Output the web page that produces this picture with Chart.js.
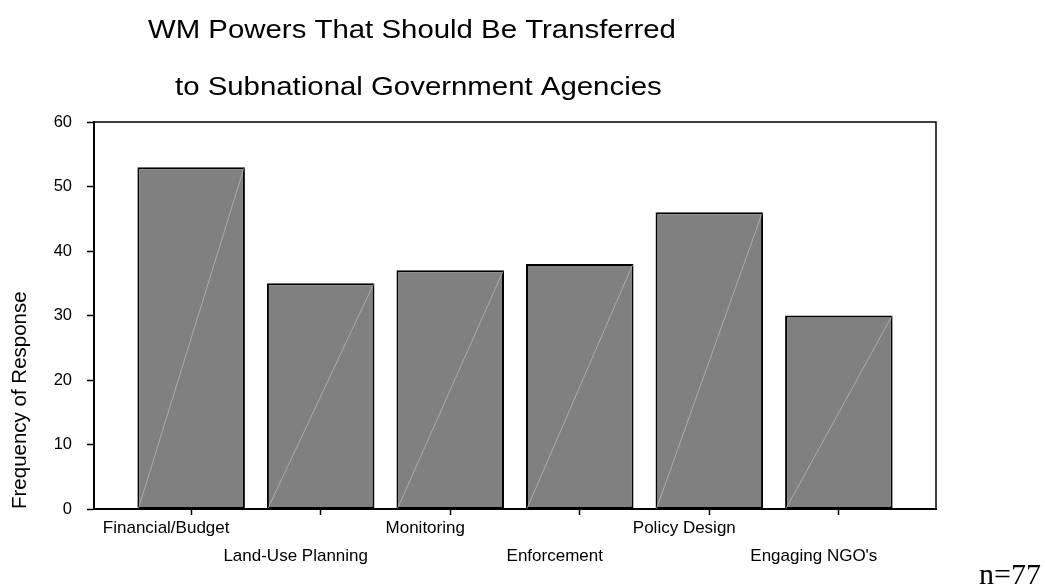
<!DOCTYPE html>
<html>
<head>
<meta charset="utf-8">
<title>WM Powers</title>
<script src="https://cdn.jsdelivr.net/npm/chart.js@4"></script>
<style>
  html, body { margin: 0; padding: 0; background: #fff; overflow: hidden; }
  canvas { display: block; }
</style>
</head>
<body>
<canvas id="powersChart" width="1045" height="587"></canvas>
<script>
var categories = ["Financial/Budget", "Land-Use Planning", "Monitoring", "Enforcement", "Policy Design", "Engaging NGO's"];
var responses = [53, 35, 37, 38, 46, 30];
var yTicks = [0, 10, 20, 30, 40, 50, 60];
var titleLines = ["WM Powers That Should Be Transferred", "to Subnational Government Agencies"];
var sampleNote = "n=77";

var sans = "'Liberation Sans', Arial, sans-serif";

// title lines (slightly widened face) and the n= note
var textPlugin = {
    id: 'textPlugin',
    afterDraw: function(chart) {
        var ctx = chart.ctx;
        ctx.save();
        ctx.fillStyle = '#000';
        ctx.textBaseline = 'middle';
        ctx.textAlign = 'left';
        ctx.font = '26px ' + sans;
        ctx.save();
        ctx.scale(1.13, 1);
        ctx.fillText(titleLines[0], 148 / 1.13, 31);
        ctx.fillText(titleLines[1], 175 / 1.13, 88);
        ctx.restore();
        ctx.font = '30px "Liberation Serif", "Times New Roman", serif';
        ctx.textAlign = 'right';
        ctx.textBaseline = 'alphabetic';
        ctx.fillText(sampleNote, 1041, 584);
        ctx.restore();
    }
};

// box round the plot and the thin diagonal in each bar
var framePlugin = {
    id: 'framePlugin',
    afterDatasetsDraw: function(chart) {
        var ctx = chart.ctx;
        var meta = chart.getDatasetMeta(0);
        ctx.save();
        ctx.strokeStyle = 'rgba(200,200,200,0.6)';
        ctx.lineWidth = 1;
        meta.data.forEach(function(bar) {
            var p = bar.getProps(['x', 'y', 'base', 'width'], true);
            ctx.beginPath();
            ctx.moveTo(p.x - p.width / 2 + 1, p.base);
            ctx.lineTo(p.x + p.width / 2 - 1, p.y + 1);
            ctx.stroke();
        });
        var a = chart.chartArea;
        ctx.strokeStyle = '#000';
        ctx.lineWidth = 1.5;
        ctx.beginPath();
        ctx.moveTo(a.left, a.top);
        ctx.lineTo(a.right, a.top);
        ctx.lineTo(a.right, a.bottom);
        ctx.stroke();
        ctx.restore();
    }
};

var ctx = document.getElementById('powersChart').getContext('2d');
var chart = new Chart(ctx, {
    type: 'bar',
    data: {
        datasets: [{
            label: 'Frequency of Response',
            data: responses.map(function(v, i) { return { x: i, y: v }; }),
            backgroundColor: '#808080',
            borderColor: '#000',
            borderWidth: 2,
            borderSkipped: false,
            categoryPercentage: 1,
            barPercentage: 0.83
        }]
    },
    options: {
        responsive: false,
        animation: false,
        devicePixelRatio: 1,
        layout: { padding: { top: 122, right: 109, left: 8, bottom: 0 } },
        plugins: {
            legend: { display: false },
            tooltip: { enabled: false }
        },
        scales: {
            x: {
                type: 'linear',
                offset: false,
                min: -0.75,
                max: 5.75,
                afterBuildTicks: function(scale) {
                    scale.ticks = categories.map(function(c, i) { return { value: i }; });
                },
                afterFit: function(scale) { scale.height = 78; },
                border: { color: '#000', width: 2 },
                grid: { offset: false, drawOnChartArea: false, tickLength: 6, tickColor: '#000', tickWidth: 1.5 },
                ticks: {
                    color: '#000',
                    font: { family: sans, size: 17, lineHeight: 1.65 },
                    padding: -1,
                    labelOffset: -25,
                    maxRotation: 0,
                    autoSkip: false,
                    callback: function(value) {
                        var label = categories[value];
                        return value % 2 ? ['', label] : label;
                    }
                }
            },
            y: {
                min: 0,
                max: 60,
                afterBuildTicks: function(scale) {
                    scale.ticks = yTicks.map(function(v) { return { value: v }; });
                },
                afterFit: function(scale) { scale.width = 86; },
                border: { color: '#000', width: 2 },
                grid: { drawOnChartArea: false, tickLength: 7, tickColor: '#000', tickWidth: 1.5 },
                ticks: {
                    color: '#000',
                    font: { family: sans, size: 16.5 },
                    padding: 15
                },
                title: {
                    display: true,
                    text: 'Frequency of Response',
                    align: 'start',
                    color: '#000',
                    font: { family: sans, size: 20.5 },
                    padding: { top: 0, bottom: 19 }
                }
            }
        }
    },
    plugins: [textPlugin, framePlugin]
});
</script>
</body>
</html>
